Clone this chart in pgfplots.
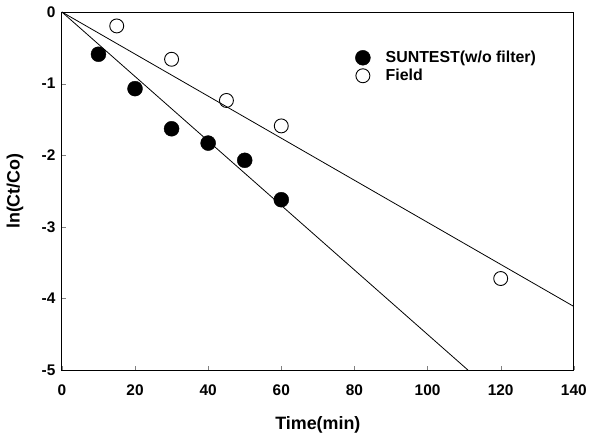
\documentclass[border=0pt]{standalone}
\usepackage{pgfplots}
\pgfplotsset{compat=1.18}
\usepackage{fontspec}
\setmainfont{Liberation Sans}
\begin{document}
\begin{tikzpicture}
\begin{axis}[
  scale only axis,
  width=513bp, height=359bp,
  xmin=0, xmax=140, ymin=-5, ymax=0,
  xtick={0,20,...,140}, ytick={-5,-4,...,0},
  tick pos=left, tick align=inside,
  major tick length=4bp,
  axis line style={line width=0.8pt},
  /pgf/number format/assume math mode=true,
  ticklabel style={font=\fontsize{15.5}{18}\selectfont\bfseries},
  xticklabel style={yshift=-11bp},
  yticklabel style={xshift=-3bp},
  label style={font=\fontsize{18}{21}\selectfont\bfseries},
  xlabel={Time(min)},
  ylabel={ln(Ct/Co)},
  xlabel style={at={(axis description cs:0.5,-0.153)}, anchor=center},
  ylabel style={at={(axis description cs:-0.0916,0.5)}, anchor=center, rotate=0},
  legend style={draw=none, fill=none, at={(axis cs:79,-0.49)}, anchor=north west,
    font=\fontsize{16}{17}\selectfont\bfseries, row sep=1bp},
  legend cell align=left,
  legend image code/.code={\draw[#1] plot coordinates {(0cm,0cm)}; \path (-0.3cm,0cm) (0.72cm,0cm);},
]
\addplot[only marks, mark=*, mark size=7.5bp, fill=black, draw=black] coordinates {
  (10,-0.59) (20,-1.07) (30,-1.63) (40,-1.83) (50,-2.07) (60,-2.62)};
\addlegendentry{SUNTEST(w/o filter)}
\addplot[only marks, mark=o, mark size=7bp, line width=0.9pt, draw=black] coordinates {
  (15,-0.195) (30,-0.66) (45,-1.235) (60,-1.59) (120,-3.72)};
\addlegendentry{Field}
\addplot[black, line width=0.8pt, forget plot] coordinates {(0,0) (111.1,-5)};
\addplot[black, line width=0.8pt, forget plot] coordinates {(0,0) (140,-4.11)};
\end{axis}
\path ([xshift=-62bp,yshift=-65bp]current axis.south west) rectangle ([xshift=15bp,yshift=12bp]current axis.north east);
\end{tikzpicture}
\end{document}
